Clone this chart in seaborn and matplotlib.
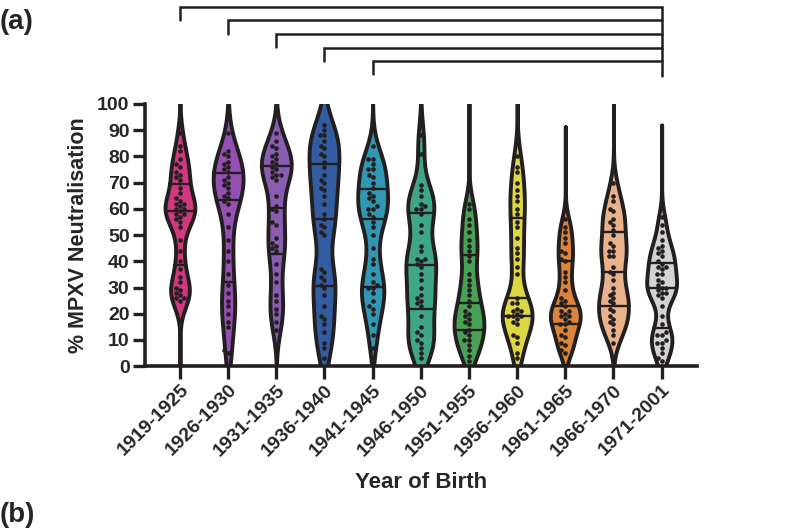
import numpy as np
import pandas as pd
import seaborn as sns
import matplotlib.pyplot as plt

groups = ["1919-1925", "1926-1930", "1931-1935", "1936-1940", "1941-1945",
          "1946-1950", "1951-1955", "1956-1960", "1961-1965", "1966-1970",
          "1971-2001"]

colors = ["#E9207F", "#9B40C2", "#8A4FC0", "#2058B6", "#1CA3C8", "#2DB98E",
          "#3AB04A", "#F6EE2A", "#F7821E", "#F8B07A", "#D3D3D3"]

# % neutralisation
g1919 = [25, 26, 26, 27, 28, 29, 30, 32, 34, 37, 40, 44, 48, 53, 55, 56, 57, 58, 58, 59,
         60, 60, 61, 62, 62, 63, 64, 66, 68, 71, 72, 73, 74, 76, 77, 79, 82, 84, 89]
g1926 = [5, 6, 15, 17, 20, 23, 25, 28, 31, 35, 40, 44, 48, 53, 58, 62, 63, 64, 65, 66,
         68, 69, 70, 71, 72, 74, 75, 76, 77, 78, 80, 81, 82, 89]
g1931 = [14, 17, 20, 22, 25, 27, 32, 35, 39, 44, 45, 46, 47, 49, 54, 55, 59, 60, 61, 65,
         71, 72, 73, 73, 74, 75, 76, 77, 78, 79, 80, 81, 83, 84, 86, 89]
g1936 = [3, 7, 9, 13, 16, 18, 19, 23, 27, 30, 31, 33, 34, 36, 37, 50, 51, 53, 54, 56,
         58, 62, 65, 67, 68, 70, 71, 73, 76, 78, 80, 81, 83, 84, 86, 88, 88, 90, 92]
g1941 = [7, 12, 16, 20, 22, 23, 25, 28, 30, 30, 31, 32, 35, 39, 41, 45, 50, 53, 55, 57,
         58, 60, 60, 61, 63, 64, 65, 66, 68, 70, 72, 73, 75, 75, 77, 79, 79, 84]
g1946 = [3, 5, 7, 9, 10, 12, 13, 15, 19, 23, 24, 25, 26, 27, 30, 33, 35, 38, 39, 40,
         41, 41, 44, 46, 51, 54, 58, 60, 60, 61, 62, 65, 67, 69, 81, 88]
g1951 = [2, 4, 6, 8, 10, 10, 12, 13, 14, 16, 17, 18, 19, 20, 21, 23, 25, 27, 29, 31,
         33, 35, 40, 42, 44, 46, 48, 51, 54, 56, 60, 62]
g1956 = [3, 5, 9, 11, 12, 16, 17, 18, 19, 19, 19, 20, 21, 21, 22, 24, 24, 26, 35, 38,
         41, 43, 45, 49, 53, 55, 58, 60, 63, 65, 67, 70, 74, 76, 80]
g1961 = [5, 6, 8, 9, 11, 12, 14, 16, 16, 17, 18, 19, 19, 20, 21, 21, 23, 24, 25, 26,
         29, 32, 34, 36, 40, 41, 43, 44, 47, 49, 51, 53, 56]
g1966 = [9, 12, 14, 16, 17, 18, 19, 21, 22, 24, 25, 26, 27, 28, 30, 33, 35, 36, 38, 42,
         42, 44, 44, 46, 47, 50, 52, 54, 55, 56, 59, 60, 63, 65, 70]
g1971 = [2, 3, 5, 7, 9, 9, 10, 12, 12, 13, 16, 19, 23, 26, 27, 28, 28, 29, 30, 30,
         31, 32, 33, 35, 35, 37, 38, 38, 39, 40, 42, 43, 44, 45, 46, 48, 51, 54, 57]

values = [g1919, g1926, g1931, g1936, g1941, g1946, g1951, g1956, g1961, g1966, g1971]

# brackets: left group index -> right group index
bracket_pairs = [(0, 10), (1, 10), (2, 10), (3, 10), (4, 10)]

df = pd.DataFrame({
    "group": np.repeat(groups, [len(v) for v in values]),
    "value": np.concatenate(values),
})

sns.set_style("ticks")
plt.rcParams["font.family"] = ["Liberation Sans", "DejaVu Sans"]
plt.rcParams["font.weight"] = "bold"

fig = plt.figure(figsize=(8, 5.3), dpi=100)
ax = fig.add_axes([0.181, 0.309, 0.69, 0.495])

ink = "#231F20"
sns.violinplot(data=df, x="group", y="value", hue="group", order=groups,
               palette=dict(zip(groups, colors)), legend=False,
               density_norm="width", width=0.62, cut=8, gridsize=300,
               bw_adjust=0.6, inner="quart", linewidth=2.8, linecolor=ink,
               inner_kws=dict(linewidth=1.7, color=ink), ax=ax)
# Prism style: solid quartile / median lines
for ln in ax.lines:
    ln.set_linestyle("-")

sns.swarmplot(data=df, x="group", y="value", order=groups, color=ink,
              size=3.3, ax=ax)

ax.set_ylim(0, 100)
ax.set_xlim(-0.73, 10.73)
ax.set_yticks(range(0, 101, 10))
ax.set_ylabel("% MPXV Neutralisation", fontsize=15.5, fontweight="bold", labelpad=6)
ax.set_xlabel("Year of Birth", fontsize=16, fontweight="bold", labelpad=9)
ax.tick_params(axis="both", width=2.4, length=9, labelsize=14, color=ink, pad=2)
ax.set_xticks(range(len(groups)))
ax.set_xticklabels(groups, rotation=45, ha="right", rotation_mode="anchor",
                   fontweight="bold", fontsize=14)
for lab in ax.get_yticklabels():
    lab.set_fontweight("bold")
for s in ["left", "bottom"]:
    ax.spines[s].set_linewidth(2.6)
    ax.spines[s].set_color(ink)
sns.despine(ax=ax)

# significance brackets above the plot
top = 137
step = 5.2
for k, (a, b) in enumerate(bracket_pairs):
    yb = top - k * step
    ax.plot([a, a, b], [yb - 5, yb, yb], color=ink, lw=1.8, clip_on=False,
            solid_joinstyle="miter")
ax.plot([10, 10], [top, top - 4 * step - 5.5], color=ink, lw=1.8, clip_on=False)

fig.text(0.0, 0.958, "(a)", fontsize=20, fontweight="bold", ha="left", va="center")
fig.text(0.0, 0.028, "(b)", fontsize=20, fontweight="bold", ha="left", va="center")

fig.savefig("out.png", dpi=100)
